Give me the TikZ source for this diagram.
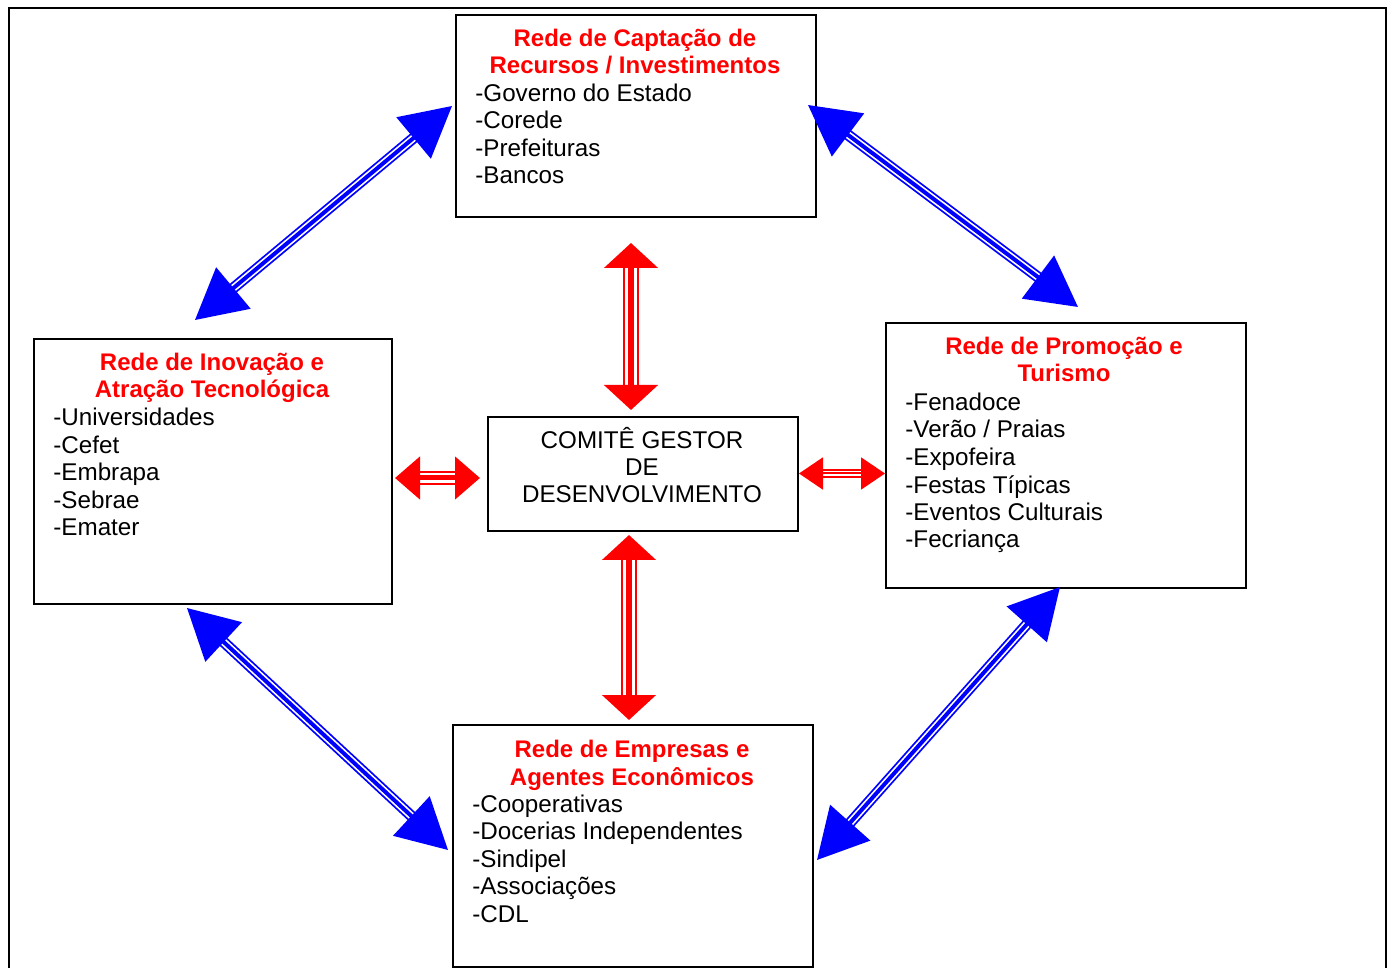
\documentclass[tikz,border=0pt]{standalone}
\usepackage{fontspec}
\setmainfont{Liberation Sans}
\usetikzlibrary{arrows.meta,positioning}

\begin{document}
\begin{tikzpicture}[x=0.5pt, y=-0.5pt,
	box/.style={draw, line width=1pt, inner sep=0pt, anchor=north west},
	title/.style={text=red, font=\fontsize{12}{13.7}\selectfont\bfseries, align=center, anchor=base, inner sep=0pt},
	items/.style={font=\fontsize{12.1}{13.75}\selectfont, align=left, anchor=base west, inner sep=0pt},
	link/.style args={#1/#2/#3/#4/#5/#6}{color=#1, line width=#4,
		{Triangle[length=#5,width=#6]}-{Triangle[length=#5,width=#6]},
		preaction={draw=#1, -, line width=#2, shorten <=#5-3pt, shorten >=#5-3pt},
		preaction={draw=white, -, line width=#3, shorten <=#5-3pt, shorten >=#5-3pt}},
	bluelink/.style={link=blue/5.5pt/3.7pt/2pt/25pt/26.5pt},
	redlink/.style={link=red/8pt/5.8pt/2.6pt/12.5pt/26.5pt}]
	\useasboundingbox (0,0) rectangle (1389,968);
	\draw[line width=1pt] (8.5,990) -- (8.5,8) -- (1385.5,8) -- (1385.5,990);

	% boxes
	\node[box, minimum width=180pt, minimum height=101pt] (capbox) at (455,14) {};
	\node[box, minimum width=179pt, minimum height=132.5pt] (inovbox) at (33,338) {};
	\node[box, minimum width=155pt, minimum height=57pt] (comite) at (487,416) {};
	\node[box, minimum width=180pt, minimum height=132.5pt] (prombox) at (885,322) {};
	\node[box, minimum width=180pt, minimum height=121pt] (empbox) at (452,724) {};

	% texts (base = last line)
	\node[title] (captitle) at (635,74) {Rede de Captação de\\Recursos / Investimentos};
	\node[items] (caplist) at (475,184) {-Governo do Estado\\-Corede\\-Prefeituras\\-Bancos};
	\node[title] (inovtitle) at (212,398) {Rede de Inovação e\\Atração Tecnológica};
	\node[items] (inovlist) at (53,536) {-Universidades\\-Cefet\\-Embrapa\\-Sebrae\\-Emater};
	\node[items, anchor=base, align=center] (comitetext) at (642,503) {COMITÊ GESTOR\\DE\\DESENVOLVIMENTO};
	\node[title] (promtitle) at (1064,382) {Rede de Promoção e\\Turismo};
	\node[items] (promlist) at (905,548) {-Fenadoce\\-Verão / Praias\\-Expofeira\\-Festas Típicas\\-Eventos Culturais\\-Fecriança};
	\node[title] (emptitle) at (632,785) {Rede de Empresas e\\Agentes Econômicos};
	\node[items] (emplist) at (472,922) {-Cooperativas\\-Docerias Independentes\\-Sindipel\\-Associações\\-CDL};

	% arrow ends
	\coordinate (cap-w) at (452,106);
	\coordinate (inov-n) at (195,320);
	\coordinate (cap-e) at (808,105);
	\coordinate (prom-n) at (1078,307);
	\coordinate (inov-s) at (187,608);
	\coordinate (emp-w) at (448,850);
	\coordinate (prom-s) at (1060,587);
	\coordinate (emp-e) at (817,860);
	\coordinate (comite-n1) at (631,243);
	\coordinate (comite-n2) at (631,410);
	\coordinate (comite-s1) at (629,535);
	\coordinate (comite-s2) at (629,720);
	\coordinate (comite-w1) at (395,478);
	\coordinate (comite-w2) at (480,478);
	\coordinate (comite-e1) at (799,473.5);
	\coordinate (comite-e2) at (885,473.5);

	\draw[bluelink] (cap-w) -- (inov-n);
	\draw[bluelink] (cap-e) -- (prom-n);
	\draw[bluelink] (inov-s) -- (emp-w);
	\draw[bluelink] (prom-s) -- (emp-e);
	\draw[redlink] (comite-n1) -- (comite-n2);
	\draw[redlink] (comite-s1) -- (comite-s2);
	\draw[link=red/6.7pt/5pt/2.5pt/12.5pt/21pt] (comite-w1) -- (comite-w2);
	\draw[link=red/4.2pt/2.75pt/1pt/12pt/16pt] (comite-e1) -- (comite-e2);
\end{tikzpicture}
\end{document}
